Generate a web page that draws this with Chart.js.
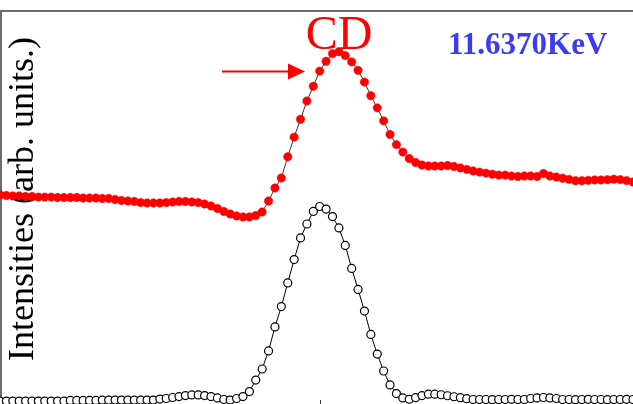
<!DOCTYPE html>
<html>
<head>
<meta charset="utf-8">
<title>CD 11.6370KeV</title>
<script src="https://cdn.jsdelivr.net/npm/chart.js@4.4.1/dist/chart.umd.min.js"></script>
<style>
  html, body { margin: 0; padding: 0; background: #fff; overflow: hidden; }
  #wrap { width: 633px; height: 404px; }
</style>
</head>
<body>
<div id="wrap"><canvas id="chart-cd" width="633" height="404"></canvas></div>
<script>
/* ── data ─────────────────────────────────────────────────── */
// scan points (energy steps, arbitrary index)
const scanSteps = Array.from({ length: 100 }, (_, i) => i);

// CD signal (red, offset upward)
const cdSignal = [
  1.064, 1.061, 1.059, 1.059, 1.056, 1.056, 1.053, 1.053, 1.053, 1.051,
  1.051, 1.051, 1.051, 1.048, 1.048, 1.048, 1.046, 1.046, 1.041, 1.036,
  1.033, 1.031, 1.025, 1.023, 1.023, 1.023, 1.025, 1.028, 1.031, 1.031,
  1.028, 1.025, 1.018, 1.008, 0.995, 0.980, 0.967, 0.957, 0.952, 0.952,
  0.959, 0.977, 1.033, 1.099, 1.150, 1.258, 1.358, 1.449, 1.542, 1.617,
  1.694, 1.744, 1.783, 1.793, 1.773, 1.741, 1.698, 1.638, 1.569, 1.507,
  1.441, 1.372, 1.320, 1.282, 1.249, 1.229, 1.216, 1.211, 1.211, 1.211,
  1.214, 1.209, 1.201, 1.194, 1.186, 1.180, 1.175, 1.169, 1.165, 1.165,
  1.160, 1.158, 1.160, 1.160, 1.158, 1.173, 1.160, 1.155, 1.149, 1.143,
  1.136, 1.136, 1.138, 1.140, 1.140, 1.141, 1.144, 1.142, 1.137, 1.130
];

// intensity (open circles)
const intensity = [
  0.015, 0.015, 0.015, 0.015, 0.015, 0.015, 0.015, 0.015, 0.015, 0.015,
  0.015, 0.018, 0.018, 0.018, 0.018, 0.018, 0.020, 0.020, 0.020, 0.020,
  0.020, 0.020, 0.020, 0.020, 0.020, 0.025, 0.028, 0.033, 0.038, 0.043,
  0.046, 0.046, 0.043, 0.038, 0.031, 0.023, 0.020, 0.028, 0.038, 0.063,
  0.122, 0.178, 0.270, 0.392, 0.496, 0.616, 0.735, 0.845, 0.916, 0.980,
  1.005, 0.992, 0.954, 0.896, 0.807, 0.690, 0.583, 0.473, 0.354, 0.254,
  0.168, 0.097, 0.053, 0.031, 0.024, 0.032, 0.043, 0.050, 0.050, 0.047,
  0.042, 0.037, 0.032, 0.027, 0.023, 0.023, 0.023, 0.022, 0.023, 0.023,
  0.024, 0.023, 0.023, 0.028, 0.031, 0.033, 0.031, 0.028, 0.023, 0.023,
  0.022, 0.023, 0.024, 0.023, 0.023, 0.022, 0.023, 0.023, 0.024, 0.023
];

const yTitle    = 'Intensities (arb. units.)';
const peakLabel = 'CD';
const energyTag = '11.6370KeV';

/* ── decorations: frame, labels, arrow ────────────────────── */
const annotate = {
  id: 'annotate',
  beforeDatasetsDraw(chart) {
    const { ctx, chartArea: a, scales: { x } } = chart;
    ctx.save();

    // frame (top + left edge only, rest is cropped)
    ctx.strokeStyle = '#6b6b6b';
    ctx.lineWidth = 2;
    ctx.beginPath();
    ctx.moveTo(0, a.top);
    ctx.lineTo(a.right, a.top);
    ctx.moveTo(1, a.top);
    ctx.lineTo(1, a.bottom);
    ctx.stroke();

    // small tick on bottom edge
    const tx = Math.round(x.getPixelForValue(50)) + 0.5;
    ctx.strokeStyle = '#333';
    ctx.lineWidth = 1;
    ctx.beginPath();
    ctx.moveTo(tx, a.bottom - 4);
    ctx.lineTo(tx, a.bottom);
    ctx.stroke();

    // y title
    ctx.save();
    ctx.translate(33, 199);
    ctx.rotate(-Math.PI / 2);
    ctx.fillStyle = '#000';
    ctx.font = '36px "Liberation Serif", "DejaVu Serif", serif';
    ctx.textAlign = 'center';
    ctx.textBaseline = 'alphabetic';
    ctx.fillText(yTitle, 0, 0);
    ctx.restore();

    // CD label
    ctx.fillStyle = '#ff0000';
    ctx.font = '48px "Liberation Serif", serif';
    ctx.textAlign = 'center';
    ctx.textBaseline = 'alphabetic';
    ctx.fillText(peakLabel, 339, 49);

    // energy tag
    ctx.fillStyle = '#3b3bf5';
    ctx.font = 'bold 31px "Liberation Serif", serif';
    ctx.textAlign = 'left';
    ctx.fillText(energyTag, 448, 54);

    // arrow
    ctx.strokeStyle = '#ff0000';
    ctx.fillStyle = '#ff0000';
    ctx.lineWidth = 2;
    ctx.beginPath();
    ctx.moveTo(222, 71.5);
    ctx.lineTo(292, 71.5);
    ctx.stroke();
    ctx.beginPath();
    ctx.moveTo(305, 71.5);
    ctx.lineTo(288, 63.5);
    ctx.lineTo(288, 79.5);
    ctx.closePath();
    ctx.fill();

    ctx.restore();
  }
};

/* ── chart ────────────────────────────────────────────────── */
new Chart(document.getElementById('chart-cd'), {
  type: 'line',
  data: {
    labels: scanSteps,
    datasets: [
      {
        label: 'intensity',
        data: intensity,
        borderColor: '#000',
        borderWidth: 1,
        pointRadius: 4,
        pointBackgroundColor: '#fff',
        pointBorderColor: '#000',
        pointBorderWidth: 1.2,
        tension: 0,
      },
      {
        label: 'CD',
        data: cdSignal,
        borderColor: '#000',
        borderWidth: 0.8,
        pointRadius: 4.2,
        pointBackgroundColor: '#ff0000',
        pointBorderColor: '#ff0000',
        pointBorderWidth: 0.5,
        tension: 0,
      }
    ]
  },
  options: {
    responsive: false,
    animation: false,
    devicePixelRatio: 1,
    layout: { autoPadding: false, padding: { top: 11, left: 0, right: 0, bottom: 0 } },
    plugins: {
      legend: { display: false },
      tooltip: { enabled: false },
    },
    scales: {
      x: { display: false, offset: false },
      y: { display: false, min: 0, max: 2 },
    }
  },
  plugins: [annotate]
});
</script>
</body>
</html>
